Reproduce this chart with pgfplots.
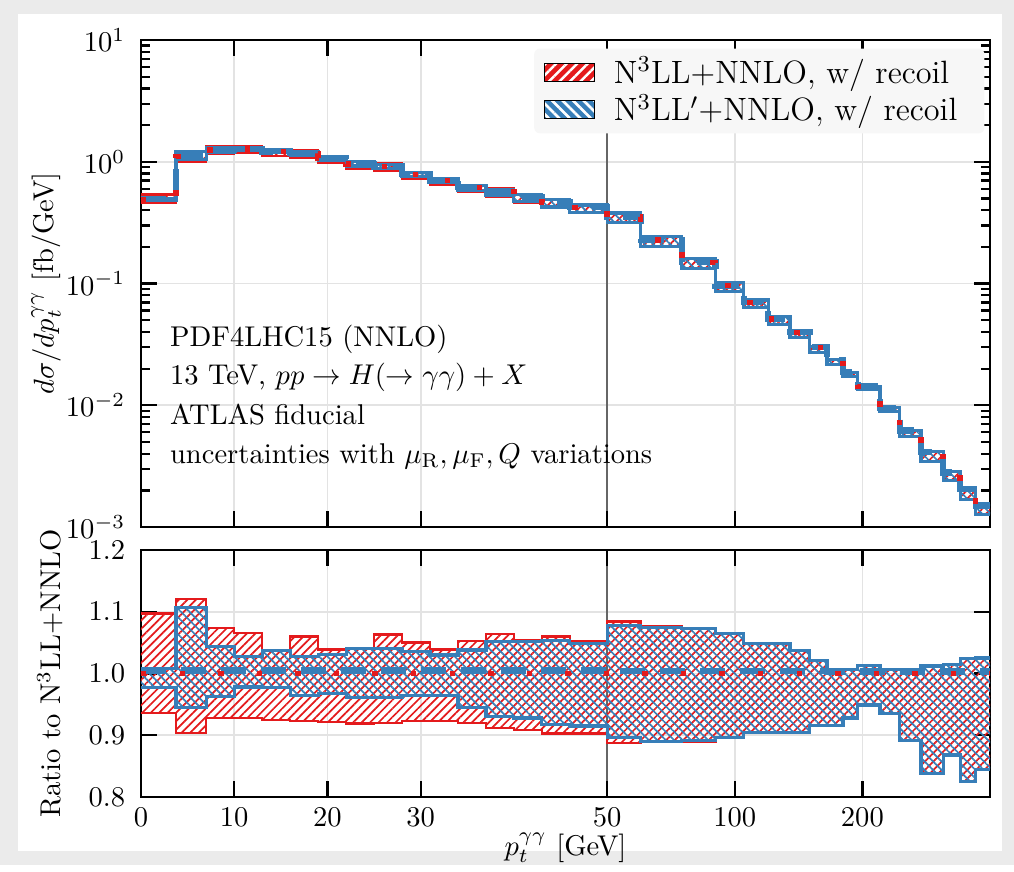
\documentclass[border=0pt]{standalone}
\usepackage{pgfplots}
\pgfplotsset{compat=1.18}
\usepackage{pgfplotstable}
\usepgfplotslibrary{fillbetween}
\usetikzlibrary{patterns.meta}

\definecolor{cRed}{RGB}{228,26,28}
\definecolor{cBlue}{RGB}{55,126,184}

% bins: left edge x [GeV] and its position u on the axis (linear to 50 GeV,
% logarithmic above: u = 50 + 19.75 ln(x/50)); N3LL+NNLO central [fb/GeV];
% red band, blue central and blue band as ratios to N3LL+NNLO
\pgfplotstableread{
x      u       c       rlo    rhi    bc     blo    bhi    rc
0      0       0.49    0.936  1.097  1.005  0.977  1.008  1.0
3.75   3.75    1.10    0.904  1.120  1.005  0.945  1.107  1.0
7      7       1.25    0.928  1.074  1.005  0.963  1.043  1.0
10     10      1.27    0.928  1.065  1.005  0.978  1.028  1.0
13     13      1.21    0.925  1.037  1.005  0.977  1.037  1.0
16     16      1.17    0.923  1.060  1.005  0.965  1.028  1.0
19     19      1.07    0.922  1.039  1.005  0.967  1.031  1.0
22     22      0.96    0.919  1.040  1.005  0.961  1.041  1.0
25     25      0.91    0.920  1.063  1.005  0.961  1.041  1.0
28     28      0.79    0.923  1.050  1.005  0.964  1.035  1.0
31     31      0.70    0.923  1.039  1.005  0.964  1.030  1.0
34     34      0.615   0.920  1.052  1.005  0.945  1.038  1.0
37     37      0.567   0.912  1.064  1.005  0.931  1.052  1.0
40     40      0.509   0.909  1.054  1.005  0.928  1.052  1.0
43     43      0.463   0.903  1.060  1.005  0.918  1.053  1.0
46     46      0.421   0.903  1.052  1.005  0.915  1.049  1.0
50     50      0.352   0.887  1.084  1.004  0.896  1.078  1.0
60     53.601  0.227   0.889  1.076  1.004  0.890  1.075  1.0
75     58.008  0.149   0.890  1.073  1.004  0.891  1.073  1.0
90     61.609  0.096   0.896  1.065  1.004  0.896  1.065  1.0
105    64.653  0.0699  0.904  1.049  1.004  0.904  1.049  1.0
120    67.290  0.051   0.904  1.049  1.004  0.904  1.049  1.0
135    69.617  0.0396  0.904  1.037  1.004  0.904  1.037  1.0
150    71.698  0.0298  0.916  1.021  1.004  0.916  1.021  1.0
165    73.580  0.0235  0.916  1.006  1.003  0.916  1.006  1.0
180    75.298  0.0186  0.928  1.006  1.003  0.928  1.006  1.0
195    76.879  0.0142  0.949  1.013  1.003  0.949  1.013  1.0
220    79.262  0.0095  0.935  1.006  1.003  0.935  1.006  1.0
245    81.387  0.0062  0.891  1.007  1.003  0.891  1.007  1.0
275    83.669  0.0041  0.838  1.012  1.003  0.838  1.012  1.0
310    86.035  0.0028  0.868  1.015  1.003  0.868  1.015  1.0
340    87.859  0.00205 0.825  1.024  1.003  0.825  1.024  1.0
370    89.529  0.0015  0.844  1.025  1.003  0.844  1.025  1.0
400    91.069  0.0015  0.844  1.025  1.003  0.844  1.025  1.0
}\bins

\pgfplotsset{
  ptbase/.style={
    set layers, clip=false,
    scale only axis, width=297.2pt,
    xmin=0, xmax=91.069,
    xtick={0,10,20,30,50,63.690,77.379},
    xmajorgrids, ymajorgrids,
    major grid style={gray!22, line width=0.6pt},
    extra x ticks={50}, extra x tick labels={},
    extra x tick style={major tick length=0pt, major grid style={black!60, line width=0.5pt}},
    axis line style={line width=0.8pt},
    tick style={black, line width=0.8pt},
    major tick length=5.5pt, minor tick length=3.2pt,
    yticklabel style={xshift=-2pt},
  },
  rband/.style={cRed, line width=0.8pt, const plot mark left, forget plot},
  bband/.style={cBlue, line width=1.1pt, const plot mark left, forget plot},
  bcen/.style={cBlue, line width=2.2pt, dash pattern=on 8.75pt off 5.25pt, const plot mark left, forget plot},
  rcen/.style={cRed, line width=1.9pt, line cap=butt, dash pattern=on 1.9pt off 11.6pt, const plot mark left, forget plot},
  rhatch/.style={forget plot, draw=none, pattern={Lines[angle=45,distance=2.1pt,line width=0.6pt]}, pattern color=cRed},
  bhatch/.style={forget plot, draw=none, pattern={Lines[angle=-45,distance=2.1pt,line width=0.6pt]}, pattern color=cBlue},
}

\begin{document}
\begin{tikzpicture}
\begin{axis}[
  ptbase, at={(49.35pt,118.3pt)}, anchor=south west,
  height=170.5pt,
  ymode=log, ymin=1e-3, ymax=10,
  xticklabels={},
  ylabel={$d\sigma/dp_t^{\gamma\gamma}$ [fb/GeV]},
  ylabel style={at={(axis description cs:-0.112,0.5)}, anchor=center},
  legend style={at={(1,1)}, anchor=north east, xshift=-1.75pt, yshift=-2.8pt,
    fill=gray!6, draw=none, rounded corners=2pt, cells={anchor=west},
    font=\fontsize{11.3}{13}\selectfont,
    nodes={inner ysep=0.5pt, inner xsep=6.5pt}, row sep=1.4pt, inner xsep=3pt, inner ysep=2.5pt},
]
% page background (grey frame, white sheet)
\begin{pgfonlayer}{axis background}
\fill[gray!16] (rel axis cs:-0.16608,-0.69405) rectangle (rel axis cs:1.02827,1.08214);
\fill[white] (rel axis cs:-0.14488,-0.66530) rectangle (rel axis cs:1.01413,1.05339);
\end{pgfonlayer}

\addlegendimage{legend image code/.code={
  \filldraw[sharp corners, fill=cRed, draw=cRed!85!black, line width=0.4pt] (0pt,-3.2pt) rectangle (17.5pt,3.2pt);
  \fill[sharp corners, pattern={Lines[angle=45,distance=2.6pt,line width=0.9pt]}, pattern color=white] (0pt,-3.2pt) rectangle (17.5pt,3.2pt);}}
\addlegendentry{N$^3$LL+NNLO, w/ recoil}
\addlegendimage{legend image code/.code={
  \filldraw[sharp corners, fill=cBlue, draw=cBlue!85!black, line width=0.4pt] (0pt,-3.2pt) rectangle (17.5pt,3.2pt);
  \fill[sharp corners, pattern={Lines[angle=-45,distance=2.6pt,line width=0.9pt]}, pattern color=white] (0pt,-3.2pt) rectangle (17.5pt,3.2pt);}}
\addlegendentry{N$^3$LL$'$+NNLO, w/ recoil}

\addplot[rband, name path=uRH] table[x=u, y expr=\thisrow{c}*\thisrow{rhi}] {\bins};
\addplot[rband, name path=uRL] table[x=u, y expr=\thisrow{c}*\thisrow{rlo}] {\bins};
\addplot[rhatch] fill between[of=uRH and uRL];
\addplot[bband, name path=uBH] table[x=u, y expr=\thisrow{c}*\thisrow{bhi}] {\bins};
\addplot[bband, name path=uBL] table[x=u, y expr=\thisrow{c}*\thisrow{blo}] {\bins};
\addplot[bhatch] fill between[of=uBH and uBL];
\addplot[bcen] table[x=u, y expr=\thisrow{c}*\thisrow{bc}] {\bins};
\addplot[rcen] table[x=u, y=c] {\bins};

\node[anchor=base west] at (rel axis cs:0.0224,0.370) {PDF4LHC15 (NNLO)};
\node[anchor=base west] at (rel axis cs:0.0224,0.292) {13 TeV, $pp \to H(\to \gamma\gamma) + X$};
\node[anchor=base west] at (rel axis cs:0.0224,0.211) {ATLAS fiducial};
\node[anchor=base west] at (rel axis cs:0.0224,0.131) {uncertainties with $\mu_{\mathrm{R}}, \mu_{\mathrm{F}}, Q$ variations};
\end{axis}

\begin{axis}[
  ptbase, at={(49.35pt,23.8pt)}, anchor=south west,
  height=86.5pt,
  ymin=0.8, ymax=1.2, ytick={0.8,0.9,1.0,1.1,1.2},
  y tick label style={/pgf/number format/fixed, /pgf/number format/fixed zerofill, /pgf/number format/precision=1},
  xticklabels={0,10,20,30,50,100,200},
  xlabel={$p_t^{\gamma\gamma}$ [GeV]},
  xlabel style={at={(axis description cs:0.5,-0.205)}, anchor=center},
  ylabel={Ratio to N$^3$LL+NNLO},
  ylabel style={at={(axis description cs:-0.107,0.5)}, anchor=center},
]
\addplot[rband, name path=lRH] table[x=u, y=rhi] {\bins};
\addplot[rband, name path=lRL] table[x=u, y=rlo] {\bins};
\addplot[rhatch] fill between[of=lRH and lRL];
\addplot[bband, name path=lBH] table[x=u, y=bhi] {\bins};
\addplot[bband, name path=lBL] table[x=u, y=blo] {\bins};
\addplot[bhatch] fill between[of=lBH and lBL];
\addplot[bcen] table[x=u, y=bc] {\bins};
\addplot[rcen] table[x=u, y=rc] {\bins};
\end{axis}
\end{tikzpicture}
\end{document}
